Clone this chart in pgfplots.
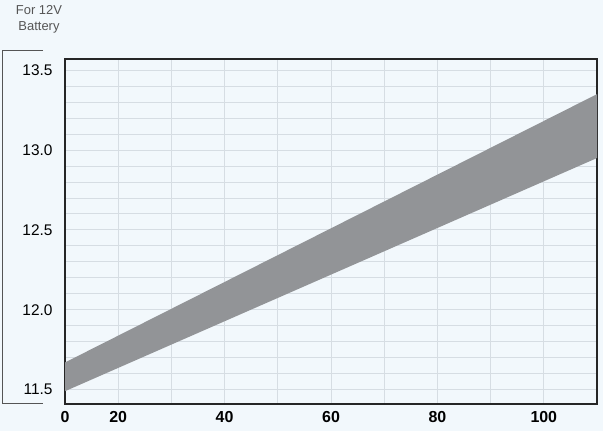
\documentclass[border=0pt]{standalone}
\usepackage{pgfplots}
\pgfplotsset{compat=1.18}
\usepackage{fontspec}
\setmainfont{Liberation Sans}
\definecolor{bgc}{HTML}{F2F8FC}
\definecolor{gridc}{HTML}{D6DDE3}
\definecolor{vgridc}{HTML}{E0E6EB}
\definecolor{bandc}{HTML}{929497}
\definecolor{framec}{HTML}{262626}
\definecolor{txtc}{HTML}{555555}
\begin{document}
\begin{tikzpicture}
\fill[bgc] (0,0) rectangle (603bp,431bp);
\useasboundingbox (0,0) rectangle (603bp,431bp);
\node[align=center, text=txtc, font=\fontsize{13}{16}\selectfont, anchor=center] at (39bp,412bp) {For 12V\\Battery};
\draw[txtc, line width=1bp] (43bp,380bp) -- (2bp,380bp) -- (2bp,27bp) -- (43bp,27bp);
\begin{axis}[
  at={(65bp,27bp)}, anchor=south west,
  width=532bp, height=345bp, scale only axis=true,
  xmin=10, xmax=110, ymin=11.41, ymax=13.57,
  axis background/.style={fill=bgc},
  xtick={10,20,40,60,80,100},
  xticklabels={0,20,40,60,80,100},
  minor xtick={20,30,...,100},
  ytick={11.5,12.0,12.5,13.0,13.5},
  yticklabels={11.5,12.0,12.5,13.0,13.5},
  minor ytick={11.5,11.6,...,13.55},
  minor grid style={gridc, line width=0.9bp},
  xminorgrids=true, yminorgrids=true,
  major tick length=0pt, minor tick length=0pt,
  /pgf/number format/assume math mode=true,
  x tick label style={font=\fontsize{16}{16}\selectfont\bfseries, yshift=-4bp},
  y tick label style={font=\fontsize{15.5}{16}\selectfont, xshift=-9bp},
  axis line style={framec, line width=2bp},
  clip=true,
]
\addplot[fill=bandc, draw=none] coordinates {(10,11.49) (110,12.95) (110,13.35) (10,11.67)} -- cycle;
\end{axis}
\end{tikzpicture}
\end{document}
